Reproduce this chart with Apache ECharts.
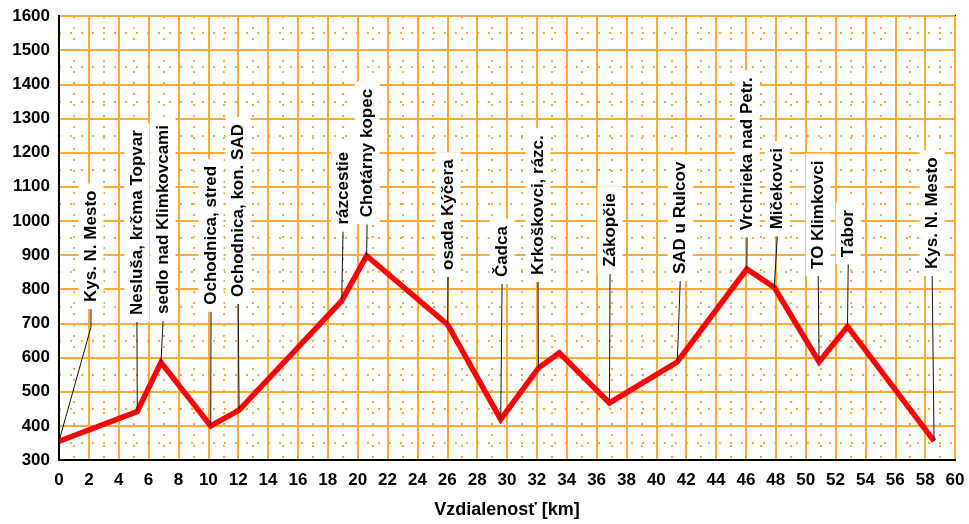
<!DOCTYPE html>
<html>
<head>
<meta charset="utf-8">
<script src="https://cdn.jsdelivr.net/npm/echarts@6/dist/echarts.min.js"></script>
<style>
html,body{margin:0;padding:0;background:#fff;}
#chart{width:969px;height:524px;}
</style>
</head>
<body>
<div id="chart"></div>
<script>
// Route profile data
const distanceKm = [0, 5.24, 6.83, 10.16, 12.06, 18.93, 20.6, 26.03, 29.58, 32.1, 33.5, 36.86, 41.4, 46.06, 47.9, 50.9, 52.8, 58.6];
const elevationM = [355, 442, 586, 400, 446, 766, 898, 696, 419, 569, 614, 467, 587, 859, 805, 587, 691, 355];
const placeNames = ["Kys. N. Mesto", "Nesluša, krčma Topvar", "sedlo nad Klimkovcami", "Ochodnica, stred", "Ochodnica, kon. SAD", "rázcestie", "Chotárny kopec", "osada Kýčera", "Čadca", "Krkoškovci, rázc.", "", "Zákopčie", "SAD u Rulcov", "Vrchrieka nad Petr.", "Mičekovci", "TO Klimkovci", "Tábor", "Kys. N. Mesto"];
// where each place label sits (in chart units)
const labelKm   = [2.14, 5.22, 6.97, 10.18, 12.0, 19.02, 20.63, 26.05, 29.67, 32.08, null, 36.9, 41.6, 46.08, 48.1, 50.84, 52.85, 58.47];
const labelElev = [742, 704, 707, 734, 757, 969, 990, 836, 815, 821, null, 845, 824, 952, 955, 839, 873, 839];
const leaderBendElev = [689, null, null, null, null, null, null, null, null, null, null, null, null, null, null, null, null, null];

const orange = '#ffaa33';
const font = '"Liberation Sans", Arial, sans-serif';

const lineData = distanceKm.map((d, i) => [d, elevationM[i]]);
const labelData = [];
placeNames.forEach((n, i) => {
  if (n) labelData.push({ name: n, value: [distanceKm[i], elevationM[i], labelKm[i], labelElev[i], leaderBendElev[i] == null ? NaN : leaderBendElev[i]] });
});

const chart = echarts.init(document.getElementById('chart'), null, { renderer: 'canvas' });
chart.setOption({
  backgroundColor: '#fff',
  animation: false,
  grid: { left: 59, right: 14, top: 16, bottom: 62, show: true, borderColor: '#000', borderWidth: 2, backgroundColor: 'transparent' },
  xAxis: {
    type: 'value', min: 0, max: 60, interval: 2,
    name: 'Vzdialenosť [km]', nameLocation: 'middle', nameGap: 41,
    nameTextStyle: { color: '#000', fontWeight: 'bold', fontSize: 18, fontFamily: font },
    axisLine: { show: true, lineStyle: { color: '#000', width: 2 } },
    axisTick: { show: false },
    axisLabel: { color: '#000', fontWeight: 'bold', fontSize: 17, fontFamily: font, margin: 12, formatter: v => String(v) },
    splitLine: { show: true, lineStyle: { color: orange, width: 2 } },
    minorTick: { show: false, splitNumber: 2 },
    minorSplitLine: { show: true, lineStyle: { color: orange, width: 2, type: [2, 9] } }
  },
  yAxis: {
    type: 'value', min: 300, max: 1600, interval: 100,
    axisLine: { show: true, lineStyle: { color: '#000', width: 2 } },
    axisTick: { show: false },
    axisLabel: { color: '#000', fontWeight: 'bold', fontSize: 17, fontFamily: font, margin: 9, formatter: v => String(v) },
    splitLine: { show: true, lineStyle: { color: orange, width: 2 } },
    minorTick: { show: false, splitNumber: 2 },
    minorSplitLine: { show: true, lineStyle: { color: orange, width: 2, type: [2, 9] } }
  },
  series: [
    {
      type: 'line', data: lineData, symbol: 'none', z: 2,
      lineStyle: { color: '#ff0000', width: 5.5, join: 'miter' }
    },
    {
      type: 'custom', data: labelData, z: 3, clip: false,
      encode: { x: [0, 2], y: [1, 3] },
      renderItem: function (params, api) {
        const p = api.coord([api.value(0), api.value(1)]);
        const l = api.coord([api.value(2), api.value(3)]);
        const pts = [p];
        const bend = api.value(4);
        if (!isNaN(bend)) pts.push(api.coord([api.value(2), bend]));
        pts.push(l);
        return {
          type: 'group',
          children: [
            { type: 'polyline', shape: { points: pts }, style: { stroke: '#111', lineWidth: 1, fill: null } },
            {
              type: 'text', x: l[0], y: l[1], rotation: Math.PI / 2,
              style: {
                text: labelData[params.dataIndex].name, fill: '#000',
                font: 'bold 17px ' + font, align: 'left', verticalAlign: 'middle',
                backgroundColor: '#fff', padding: [4, 7, 4, 7]
              }
            }
          ]
        };
      }
    }
  ]
});
</script>
</body>
</html>
